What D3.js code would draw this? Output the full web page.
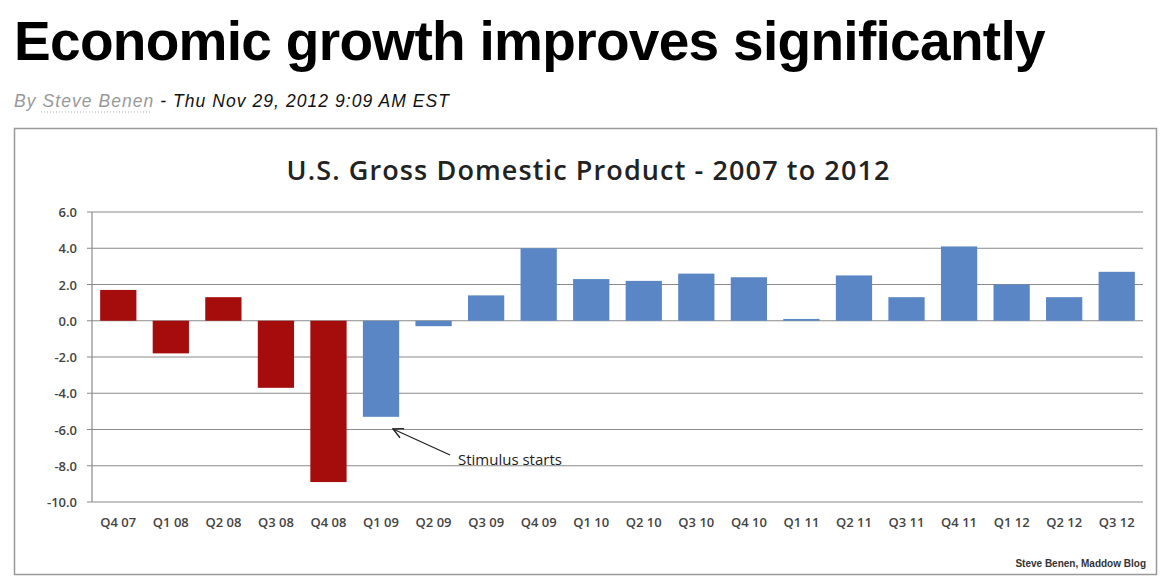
<!DOCTYPE html>
<html><head><meta charset="utf-8">
<script src="https://cdn.jsdelivr.net/npm/d3@7"></script>
<style>body{margin:0;background:#fff}</style></head>
<body><svg id="c" width="1175" height="584"></svg>
<script>
const categories=["Q4 07","Q1 08","Q2 08","Q3 08","Q4 08","Q1 09","Q2 09","Q3 09","Q4 09","Q1 10","Q2 10","Q3 10","Q4 10","Q1 11","Q2 11","Q3 11","Q4 11","Q1 12","Q2 12","Q3 12"];
const values=[1.7,-1.8,1.3,-3.7,-8.9,-5.3,-0.3,1.4,4.0,2.3,2.2,2.6,2.4,0.1,2.5,1.3,4.1,2.0,1.3,2.7];
const colorsByBar=["r","r","r","r","r","b","b","b","b","b","b","b","b","b","b","b","b","b","b","b"];
const yTicks=[6,4,2,0,-2,-4,-6,-8,-10];
const svg=d3.select("#c");
svg.append("text").attr("x",14).attr("y",60).attr("font-family","Liberation Sans, Arial").attr("font-weight","bold").attr("font-size",55).attr("letter-spacing",-0.6).attr("textLength",1031).text("Economic growth improves significantly");
const by=svg.append("text").attr("x",14).attr("y",107).attr("font-family","Liberation Sans, Arial").attr("font-style","italic").attr("font-size",17.5).attr("textLength",435);
by.append("tspan").attr("fill","#999").text("By Steve Benen");
by.append("tspan").attr("fill","#111").text("  -  Thu Nov 29, 2012 9:09 AM EST");
svg.append("line").attr("x1",41).attr("x2",151).attr("y1",112).attr("y2",112).attr("stroke","#aaa").attr("stroke-dasharray","1,2");
svg.append("rect").attr("x",14.5).attr("y",128.5).attr("width",1142).attr("height",446).attr("fill","#fff").attr("stroke","#999").attr("stroke-width",1.5);
svg.append("text").attr("x",588).attr("y",180).attr("text-anchor","middle").attr("font-family","Open Sans").attr("font-weight",600).attr("font-size",27).attr("fill","#222").attr("textLength",603).text("U.S. Gross Domestic Product - 2007 to 2012");
const x=d3.scaleBand().domain(categories).range([92,1143]).paddingInner(0.31).paddingOuter(0.155);
const y=d3.scaleLinear().domain([-10,6]).range([502,212]);
const g=svg.append("g");
g.selectAll("line.grid").data(yTicks).join("line").attr("x1",87).attr("x2",1143).attr("y1",d=>y(d)).attr("y2",d=>y(d)).attr("stroke","#8a8a8a").attr("stroke-width",1.2);
g.append("line").attr("x1",92).attr("x2",92).attr("y1",212).attr("y2",502).attr("stroke","#8a8a8a").attr("stroke-width",1.2);
g.selectAll("text.yt").data(yTicks).join("text").attr("x",77).attr("y",d=>y(d)+5).attr("text-anchor","end").attr("font-family","Open Sans").attr("font-weight",600).attr("font-size",13).attr("fill","#444").text(d=>d.toFixed(1));
g.selectAll("rect.bar").data(values).join("rect").attr("x",(d,i)=>x(categories[i])).attr("width",x.bandwidth()).attr("y",d=>y(Math.max(0,d))).attr("height",d=>Math.abs(y(d)-y(0))).attr("fill",(d,i)=>colorsByBar[i]==="r"?"#a50d0d":"#5a86c5");
g.selectAll("text.xt").data(categories).join("text").attr("x",d=>x(d)+x.bandwidth()/2).attr("y",527).attr("text-anchor","middle").attr("font-family","Open Sans").attr("font-weight",600).attr("font-size",13).attr("fill","#444").text(d=>d);
svg.append("defs").append("marker").attr("id","ah").attr("viewBox","0 0 12 12").attr("refX",11).attr("refY",6).attr("markerWidth",12).attr("markerHeight",12).attr("markerUnits","userSpaceOnUse").attr("orient","auto").append("path").attr("d","M1,1 L11,6 L1,11").attr("fill","none").attr("stroke","#222").attr("stroke-width",1.4);
svg.append("line").attr("x1",450).attr("y1",455).attr("x2",393).attr("y2",429).attr("stroke","#222").attr("stroke-width",1.3).attr("marker-end","url(#ah)");
svg.append("text").attr("x",458).attr("y",465).attr("font-family","Open Sans").attr("font-size",15).attr("fill","#222").text("Stimulus starts");
svg.append("text").attr("x",1146).attr("y",567).attr("text-anchor","end").attr("font-family","Liberation Sans Narrow, Liberation Sans").attr("font-weight","bold").attr("font-size",10).attr("fill","#333").text("Steve Benen, Maddow Blog");
</script></body></html>
